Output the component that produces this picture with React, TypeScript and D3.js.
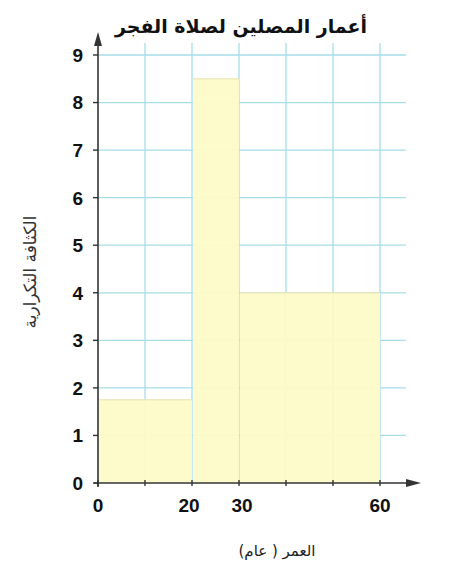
import * as React from 'react';
import { scaleLinear, range } from 'd3';

// histogram with unequal class widths (frequency density)
const binStarts = [0, 20, 30];
const binEnds = [20, 30, 60];
const densities = [1.75, 8.5, 4];

const yTicks = [0, 1, 2, 3, 4, 5, 6, 7, 8, 9];
const xTickMarks = [0, 10, 20, 30, 40, 50, 60];
const xTickLabels = [0, 20, 30, 60];

const title = 'أعمار المصلين لصلاة الفجر';
const xTitle = 'العمر ( عام)';
const yTitle = 'الكثافة التكرارية';

const W = 473;
const H = 571;

const App = () => {
    const x = scaleLinear().domain([0, 60]).range([98, 380]);
    const y = scaleLinear().domain([0, 9]).range([483, 55]);

    const gridColor = '#a6dde9';
    const numFont = '"Liberation Sans", Arial, sans-serif';
    const arFont = '"DejaVu Sans", sans-serif';

    return (
        <div style={{ position: 'absolute', left: 0, top: 0 }}>
            <svg width={W} height={H} style={{ display: 'block', background: 'white' }}>
                {/* horizontal grid */}
                {yTicks.filter(t => t > 0).map(t => (
                    <line key={'h' + t} x1={x(0)} x2={x(65.5)} y1={y(t)} y2={y(t)} stroke={gridColor} strokeWidth={1.3} />
                ))}
                {/* vertical grid */}
                {range(10, 61, 10).map(t => (
                    <line key={'v' + t} x1={x(t)} x2={x(t)} y1={y(0)} y2={y(9.25)} stroke={gridColor} strokeWidth={1.3} />
                ))}

                {/* bars */}
                {densities.map((d, i) => (
                    <rect key={i}
                        x={x(binStarts[i]) + 1}
                        y={y(d)}
                        width={x(binEnds[i]) - x(binStarts[i]) - 1}
                        height={y(0) - y(d)}
                        fill="#fdfac8"
                        fillOpacity={0.95} />
                ))}
                {/* bar tops */}
                {densities.map((d, i) => (
                    <line key={'e' + i} x1={x(binStarts[i]) + 1} x2={x(binEnds[i])} y1={y(d)} y2={y(d)} stroke="#e7e2b0" strokeWidth={1} />
                ))}

                {/* y axis */}
                <line x1={x(0)} x2={x(0)} y1={y(0) + 4} y2={38} stroke="#333" strokeWidth={1.6} />
                <path d={`M${x(0)},32 L${x(0) - 4},46 L${x(0) + 4},46 Z`} fill="#333" />
                {yTicks.map(t => (
                    <g key={'yt' + t}>
                        <line x1={x(0) - 5} x2={x(0)} y1={y(t)} y2={y(t)} stroke="#333" strokeWidth={1.4} />
                        <text x={x(0) - 15} y={y(t)} dy="0.36em" textAnchor="end"
                            fontFamily={numFont} fontWeight="bold" fontSize={19} fill="#111">{t}</text>
                    </g>
                ))}

                {/* x axis */}
                <line x1={x(0) - 4} x2={412} y1={y(0)} y2={y(0)} stroke="#333" strokeWidth={1.6} />
                <path d={`M421,${y(0)} L406,${y(0) - 4} L406,${y(0) + 4} Z`} fill="#333" />
                {xTickMarks.map(t => (
                    <line key={'xt' + t} x1={x(t)} x2={x(t)} y1={y(0) - 3} y2={y(0) + 3} stroke="#333" strokeWidth={1.4} />
                ))}
                {xTickLabels.map(t => (
                    <text key={'xl' + t} x={x(t) + (t === 20 ? -3 : t === 30 ? 3 : 0)} y={y(0) + 29} textAnchor="middle"
                        fontFamily={numFont} fontWeight="bold" fontSize={19} fill="#111">{t}</text>
                ))}

                {/* titles */}
                <text x={241} y={33} textAnchor="middle" fontFamily={arFont} fontWeight="bold" fontSize={19} fill="#111" direction="rtl">{title}</text>
                <text x={277} y={556} textAnchor="middle" fontFamily={arFont} fontSize={15} fill="#222" direction="rtl">{xTitle}</text>
                <text transform="translate(36,272) rotate(-90)" textAnchor="middle" fontFamily={arFont} fontSize={17} fill="#333" direction="rtl">{yTitle}</text>
            </svg>
        </div>
    );
};

export default App;
